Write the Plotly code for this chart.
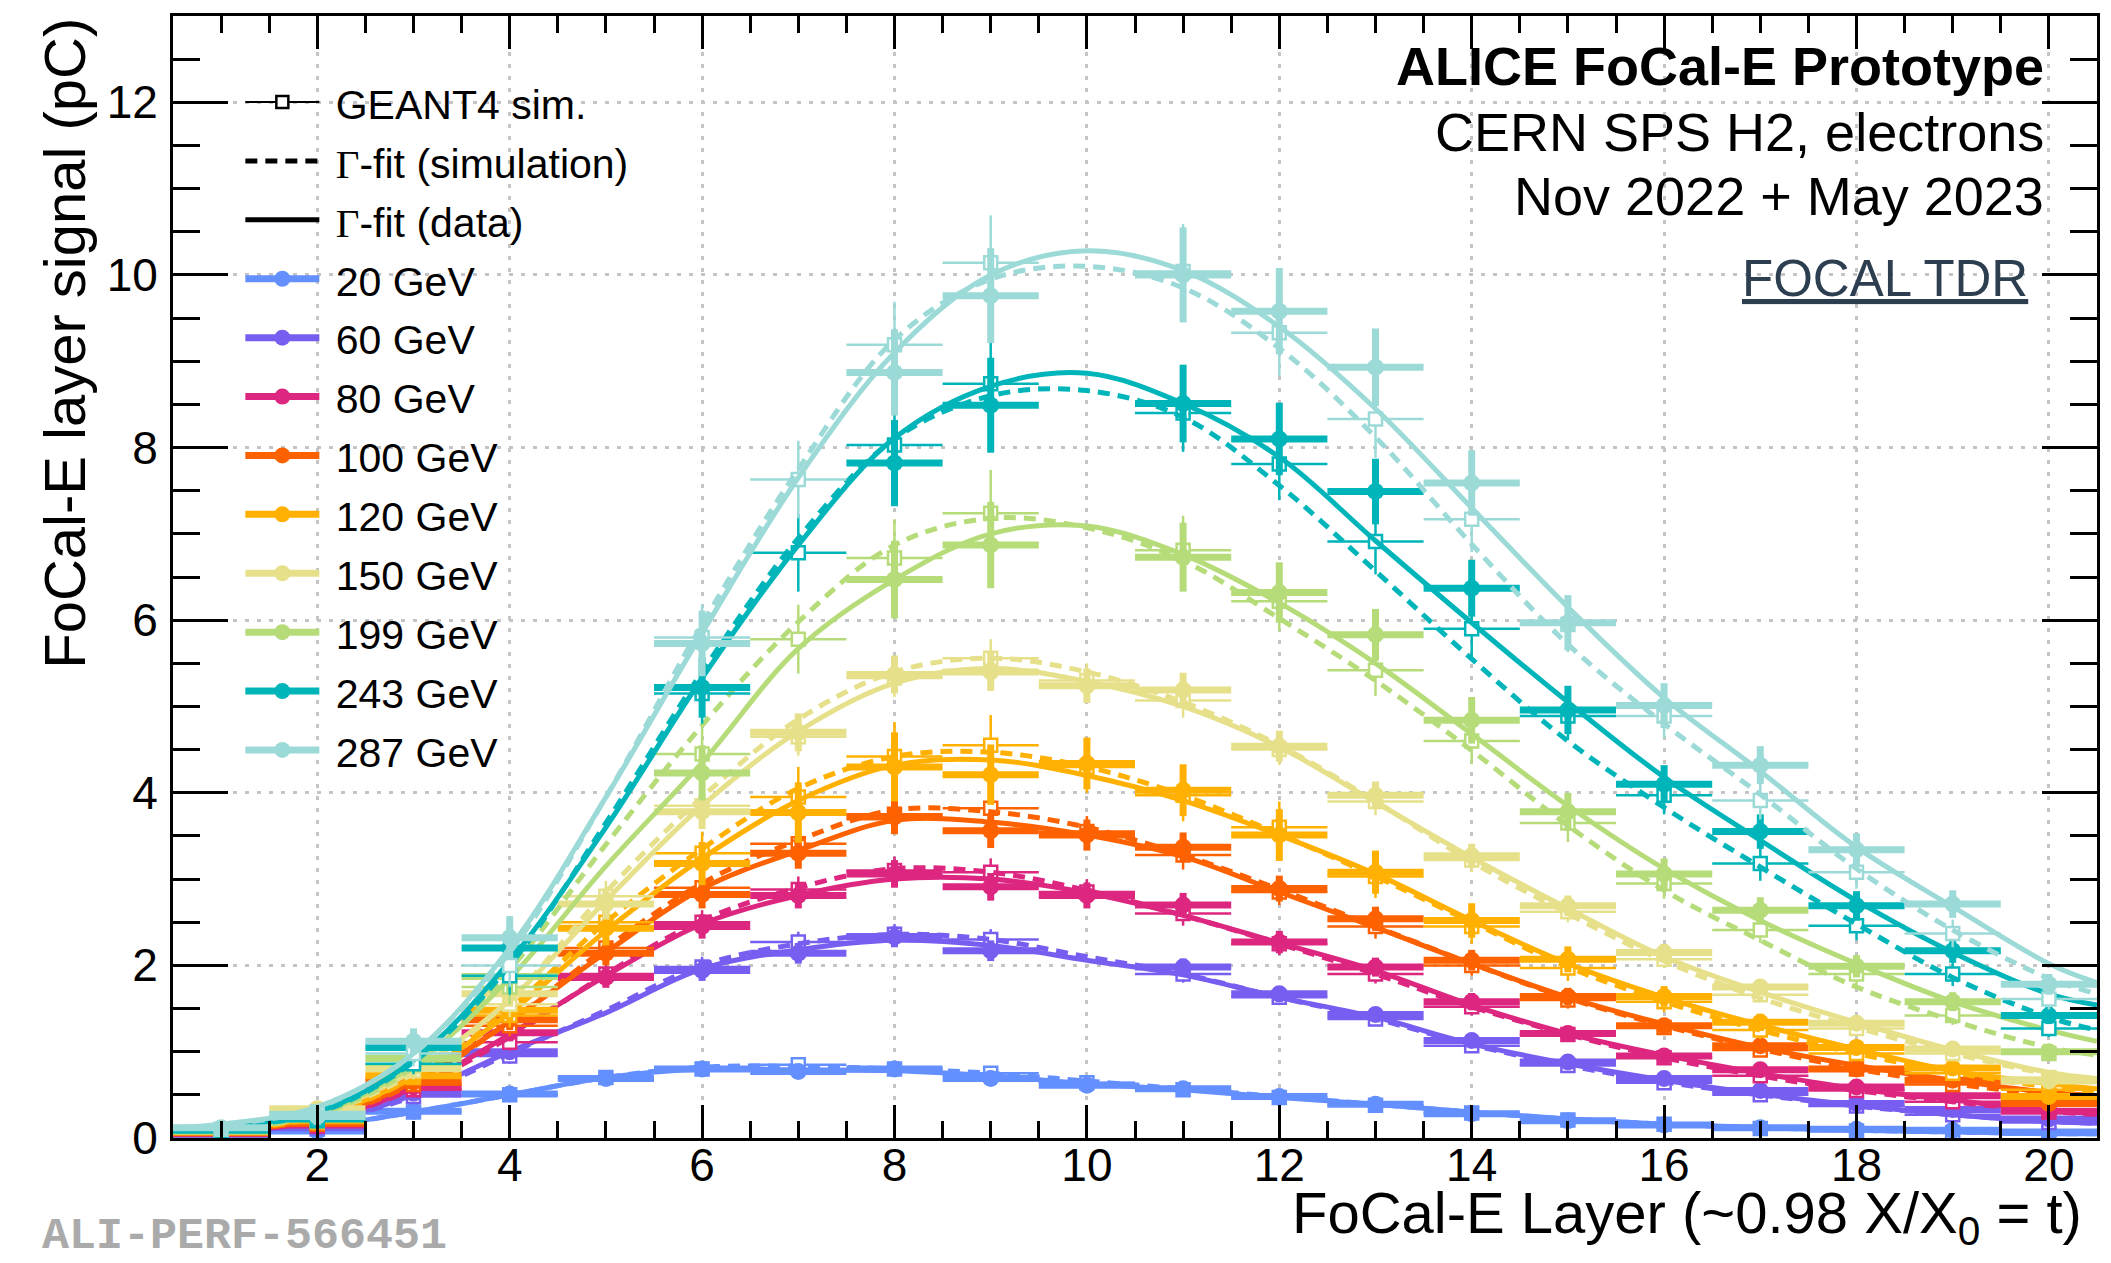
import plotly.graph_objects as go

# ---------------- data ----------------
layers = [1, 2, 3, 4, 5, 6, 7, 8, 9, 10, 11, 12, 13, 14, 15, 16, 17, 18, 19, 20]
fit_x = [0.5, 1, 2, 3, 4, 5, 6, 7, 8, 9, 10, 11, 12, 13, 14, 15, 16, 17, 18, 19, 20, 20.5]

energies = ["20 GeV", "60 GeV", "80 GeV", "100 GeV", "120 GeV", "150 GeV", "199 GeV", "243 GeV", "287 GeV"]
colors = ["#648FFF", "#785EF0", "#DC267F", "#FE6100", "#FFB000", "#E6E08A", "#B6DC7A", "#00B5BA", "#9CDAD8"]

# measured layer signal (pC)
data_20 = [0.04, 0.08, 0.31, 0.51, 0.69, 0.80, 0.77, 0.80, 0.69, 0.61, 0.57, 0.48, 0.39, 0.28, 0.20, 0.15, 0.12, 0.10, 0.09, 0.07]
data_60 = [0.06, 0.12, 0.52, 1.00, None, 1.94, 2.14, 2.33, 2.17, None, 1.98, 1.67, 1.43, 1.13, 0.88, 0.69, 0.55, 0.40, 0.33, 0.22]
data_80 = [0.05, 0.15, 0.59, 1.22, 1.86, 2.45, 2.81, 3.06, 2.91, 2.81, 2.70, 2.27, 1.98, 1.58, 1.21, 0.95, 0.79, 0.59, 0.49, 0.31]
data_100 = [0.06, 0.17, 0.65, 1.37, 2.14, 2.82, 3.30, 3.72, 3.56, 3.51, 3.37, 2.89, 2.54, 2.06, 1.64, 1.30, 1.07, 0.80, 0.67, 0.40]
data_120 = [0.07, 0.20, 0.72, 1.48, 2.43, 3.18, 3.77, 4.30, 4.21, 4.34, 4.03, 3.51, 3.08, 2.52, 2.07, 1.64, 1.34, 1.05, 0.81, 0.48]
data_150 = [0.08, 0.34, 0.82, 1.67, 2.71, 3.78, 4.70, 5.37, 5.40, 5.24, 5.19, 4.54, 3.97, 3.27, 2.69, 2.15, 1.75, 1.33, 1.03, 0.66]
data_199 = [0.08, 0.22, 0.92, 1.87, None, 4.23, None, 6.47, 6.87, None, 6.73, 6.32, 5.83, 4.84, 3.78, 3.06, 2.64, 1.99, 1.58, 1.00]
data_243 = [0.09, 0.22, 1.05, 2.20, None, 5.22, None, 7.82, 8.49, None, 8.51, 8.10, 7.49, 6.37, 4.96, 4.10, 3.55, 2.69, 2.17, 1.42]
data_287 = [0.12, 0.25, 1.12, 2.32, None, 5.73, None, 8.87, 9.76, None, 10.00, 9.58, 8.93, 7.59, 5.97, 5.01, 4.32, 3.34, 2.71, 1.78]

# GEANT4 simulation
sim_20 = [0.04, 0.10, 0.30, 0.50, 0.70, 0.80, 0.85, 0.80, 0.75, 0.64, 0.56, 0.47, 0.38, 0.29, 0.21, 0.16, 0.11, 0.08, 0.06, 0.04]
sim_60 = [0.05, 0.12, 0.48, 0.95, None, 1.98, 2.27, 2.36, 2.30, None, 1.90, 1.63, 1.38, 1.07, 0.84, 0.64, 0.50, 0.37, 0.27, 0.18]
sim_80 = [0.05, 0.14, 0.56, 1.11, 1.90, 2.50, 2.88, 3.10, 3.08, 2.85, 2.60, 2.25, 1.90, 1.52, 1.20, 0.93, 0.72, 0.55, 0.42, 0.30]
sim_100 = [0.05, 0.16, 0.62, 1.30, 2.20, 2.90, 3.41, 3.75, 3.82, 3.55, 3.28, 2.85, 2.45, 2.00, 1.60, 1.28, 1.02, 0.80, 0.62, 0.47]
sim_120 = [0.06, 0.18, 0.70, 1.42, 2.50, 3.30, 3.95, 4.42, 4.55, 4.30, 3.97, 3.60, 3.03, 2.45, 1.97, 1.58, 1.25, 0.98, 0.75, 0.56]
sim_150 = [0.07, 0.30, 0.78, 1.55, 2.80, 3.85, 4.65, 5.33, 5.56, 5.30, 5.07, 4.50, 3.90, 3.22, 2.62, 2.07, 1.66, 1.27, 0.98, 0.70]
sim_199 = [0.07, 0.20, 0.85, 1.75, None, 4.45, 5.78, 6.72, 7.24, None, 6.81, 6.22, 5.42, 4.60, 3.65, 2.95, 2.41, 1.90, 1.42, 0.98]
sim_243 = [0.08, 0.20, 0.86, 1.88, None, 5.15, 6.78, 8.03, 8.74, None, 8.40, 7.81, 6.91, 5.90, 4.89, 3.97, 3.18, 2.46, 1.90, 1.27]
sim_287 = [0.10, 0.30, 0.98, 2.00, None, 5.80, 7.63, 9.19, 10.14, None, 10.04, 9.33, 8.33, 7.17, 5.95, 4.89, 3.91, 3.08, 2.37, 1.61]

# vertical uncertainties (pC)
err_20 = [0.02, 0.03, 0.04, 0.05, 0.05, 0.05, 0.05, 0.05, 0.05, 0.05, 0.04, 0.04, 0.04, 0.03, 0.03, 0.03, 0.02, 0.02, 0.02, 0.02]
err_60 = [0.03, 0.04, 0.06, 0.09, 0.10, 0.12, 0.12, 0.12, 0.12, 0.11, 0.10, 0.09, 0.08, 0.07, 0.06, 0.05, 0.04, 0.04, 0.03, 0.03]
err_80 = [0.03, 0.04, 0.06, 0.10, 0.12, 0.14, 0.15, 0.16, 0.16, 0.15, 0.14, 0.13, 0.11, 0.10, 0.08, 0.07, 0.06, 0.05, 0.04, 0.03]
err_100 = [0.03, 0.05, 0.07, 0.12, 0.14, 0.16, 0.18, 0.20, 0.20, 0.18, 0.17, 0.15, 0.14, 0.12, 0.10, 0.08, 0.07, 0.06, 0.05, 0.04]
err_120 = [0.04, 0.05, 0.08, 0.14, 0.20, 0.25, 0.35, 0.40, 0.35, 0.30, 0.30, 0.30, 0.25, 0.20, 0.15, 0.12, 0.10, 0.08, 0.06, 0.05]
err_150 = [0.04, 0.06, 0.10, 0.15, 0.18, 0.20, 0.22, 0.22, 0.22, 0.20, 0.20, 0.18, 0.16, 0.14, 0.12, 0.10, 0.09, 0.07, 0.06, 0.05]
err_199 = [0.05, 0.08, 0.12, 0.20, 0.28, 0.32, 0.40, 0.45, 0.50, 0.45, 0.40, 0.35, 0.30, 0.27, 0.22, 0.18, 0.15, 0.13, 0.11, 0.08]
err_243 = [0.05, 0.08, 0.12, 0.22, 0.30, 0.35, 0.45, 0.50, 0.55, 0.50, 0.45, 0.42, 0.38, 0.33, 0.28, 0.22, 0.20, 0.17, 0.14, 0.10]
err_287 = [0.06, 0.10, 0.15, 0.25, 0.32, 0.38, 0.45, 0.50, 0.55, 0.55, 0.55, 0.50, 0.45, 0.38, 0.32, 0.26, 0.22, 0.19, 0.16, 0.12]

# Gamma-fit curves (data), read at fit_x
fitd_20 = [0.04, 0.05, 0.13, 0.30, 0.50, 0.70, 0.80, 0.79, 0.78, 0.72, 0.63, 0.56, 0.47, 0.39, 0.30, 0.22, 0.16, 0.12, 0.09, 0.07, 0.05, 0.05]
fitd_60 = [0.05, 0.06, 0.18, 0.50, 1.00, 1.45, 1.96, 2.18, 2.29, 2.23, 2.06, 1.89, 1.63, 1.40, 1.09, 0.86, 0.67, 0.51, 0.38, 0.27, 0.19, 0.17]
fitd_80 = [0.05, 0.07, 0.20, 0.58, 1.20, 1.88, 2.48, 2.81, 3.00, 3.00, 2.84, 2.58, 2.26, 1.94, 1.54, 1.21, 0.96, 0.75, 0.57, 0.44, 0.32, 0.28]
fitd_100 = [0.06, 0.08, 0.22, 0.65, 1.35, 2.15, 2.89, 3.33, 3.68, 3.66, 3.51, 3.26, 2.85, 2.44, 2.02, 1.63, 1.32, 1.05, 0.84, 0.67, 0.53, 0.49]
fitd_120 = [0.07, 0.09, 0.25, 0.70, 1.45, 2.40, 3.24, 3.91, 4.32, 4.38, 4.20, 3.91, 3.51, 3.06, 2.52, 2.02, 1.63, 1.31, 1.03, 0.78, 0.63, 0.57]
fitd_150 = [0.08, 0.10, 0.28, 0.78, 1.60, 2.75, 3.85, 4.71, 5.27, 5.44, 5.29, 5.00, 4.53, 3.89, 3.25, 2.66, 2.10, 1.69, 1.34, 1.02, 0.76, 0.69]
fitd_199 = [0.09, 0.12, 0.28, 0.85, 1.85, 3.15, 4.35, 5.67, 6.47, 7.00, 7.09, 6.76, 6.20, 5.50, 4.68, 3.85, 3.12, 2.52, 2.02, 1.58, 1.25, 1.12]
fitd_243 = [0.10, 0.14, 0.30, 0.90, 2.05, 3.60, 5.33, 6.87, 8.11, 8.71, 8.86, 8.51, 7.89, 6.92, 5.97, 5.05, 4.18, 3.45, 2.75, 2.15, 1.67, 1.54]
fitd_287 = [0.12, 0.16, 0.36, 0.98, 2.20, 3.95, 5.85, 7.65, 9.10, 10.00, 10.28, 10.05, 9.40, 8.45, 7.30, 6.15, 5.10, 4.25, 3.37, 2.68, 2.02, 1.80]

# Gamma-fit curves (simulation), read at fit_x
fits_20 = [0.04, 0.05, 0.13, 0.30, 0.50, 0.70, 0.82, 0.83, 0.80, 0.75, 0.66, 0.57, 0.48, 0.39, 0.30, 0.22, 0.16, 0.12, 0.09, 0.07, 0.05, 0.05]
fits_60 = [0.05, 0.06, 0.18, 0.48, 0.98, 1.48, 2.00, 2.25, 2.36, 2.30, 2.10, 1.90, 1.63, 1.38, 1.08, 0.84, 0.65, 0.50, 0.37, 0.27, 0.19, 0.17]
fits_80 = [0.05, 0.07, 0.20, 0.57, 1.17, 1.90, 2.52, 2.90, 3.12, 3.08, 2.87, 2.58, 2.25, 1.90, 1.52, 1.20, 0.93, 0.72, 0.55, 0.42, 0.31, 0.27]
fits_100 = [0.06, 0.08, 0.22, 0.63, 1.35, 2.20, 2.95, 3.45, 3.80, 3.78, 3.60, 3.28, 2.88, 2.45, 2.02, 1.62, 1.30, 1.03, 0.80, 0.63, 0.50, 0.45]
fits_120 = [0.07, 0.09, 0.24, 0.70, 1.50, 2.50, 3.35, 4.05, 4.42, 4.47, 4.30, 3.97, 3.52, 3.03, 2.50, 1.98, 1.58, 1.25, 0.98, 0.76, 0.59, 0.53]
fits_150 = [0.08, 0.10, 0.27, 0.75, 1.60, 2.85, 3.95, 4.85, 5.40, 5.56, 5.40, 5.05, 4.55, 3.90, 3.20, 2.60, 2.05, 1.62, 1.28, 0.98, 0.74, 0.66]
fits_199 = [0.09, 0.11, 0.27, 0.82, 1.95, 3.40, 4.78, 5.98, 6.87, 7.18, 7.07, 6.69, 6.02, 5.30, 4.49, 3.62, 2.87, 2.29, 1.75, 1.36, 1.05, 0.96]
fits_243 = [0.09, 0.13, 0.29, 0.88, 2.00, 3.65, 5.40, 6.95, 8.10, 8.60, 8.66, 8.35, 7.56, 6.57, 5.55, 4.60, 3.83, 3.14, 2.48, 1.86, 1.40, 1.25]
fits_287 = [0.11, 0.15, 0.35, 0.98, 2.15, 3.95, 5.95, 7.75, 9.25, 9.95, 10.10, 9.85, 9.15, 8.12, 6.88, 5.72, 4.80, 3.98, 3.12, 2.41, 1.85, 1.67]

x_ticks = [2, 4, 6, 8, 10, 12, 14, 16, 18, 20]
y_ticks = [0, 2, 4, 6, 8, 10, 12]

data_all = [data_20, data_60, data_80, data_100, data_120, data_150, data_199, data_243, data_287]
sim_all = [sim_20, sim_60, sim_80, sim_100, sim_120, sim_150, sim_199, sim_243, sim_287]
err_all = [err_20, err_60, err_80, err_100, err_120, err_150, err_199, err_243, err_287]
fitd_all = [fitd_20, fitd_60, fitd_80, fitd_100, fitd_120, fitd_150, fitd_199, fitd_243, fitd_287]
fits_all = [fits_20, fits_60, fits_80, fits_100, fits_120, fits_150, fits_199, fits_243, fits_287]

FONT = "Liberation Sans, Arial, Helvetica, sans-serif"

fig = go.Figure()

# ---------------- plotted series ----------------
for name, col, d, s, e, fd, fs in zip(energies, colors, data_all, sim_all, err_all, fitd_all, fits_all):
    # simulation points
    fig.add_trace(go.Scatter(
        x=layers, y=s, mode="markers", showlegend=False, hoverinfo="skip",
        marker=dict(symbol="square", size=13, color="white", line=dict(color=col, width=2.5)),
        error_x=dict(type="constant", value=0.5, color=col, thickness=2.5, width=0),
        error_y=dict(type="data", array=e, color=col, thickness=2.5, width=0),
    ))
    # data points
    fig.add_trace(go.Scatter(
        x=layers, y=d, mode="markers", showlegend=False, name=name,
        marker=dict(symbol="circle", size=17, color=col),
        error_x=dict(type="constant", value=0.5, color=col, thickness=7, width=0),
        error_y=dict(type="data", array=e, color=col, thickness=7, width=0),
    ))
    # gamma fit to simulation (dashed)
    fig.add_trace(go.Scatter(
        x=fit_x, y=fs, mode="lines", showlegend=False, hoverinfo="skip",
        line=dict(color=col, width=5, dash="12px,8px", shape="spline", smoothing=1.0),
    ))
    # gamma fit to data (solid)
    fig.add_trace(go.Scatter(
        x=fit_x, y=fd, mode="lines", showlegend=False, hoverinfo="skip",
        line=dict(color=col, width=5, shape="spline", smoothing=1.0),
    ))

# ---------------- legend entries ----------------
NB = "\u00a0"
LEG = "<span style='font-size:41px'>" + NB + "{}</span>"
GAMMA = "<span style='font-family:Liberation Serif, Times New Roman, serif'>Γ</span>"
fig.add_trace(go.Scatter(
    x=[None], y=[None], mode="lines+markers", name=LEG.format("GEANT4 sim."),
    line=dict(color="black", width=2),
    marker=dict(symbol="square", size=12, color="white", line=dict(color="black", width=2.5)),
))
fig.add_trace(go.Scatter(
    x=[None], y=[None], mode="lines", name=LEG.format(GAMMA + "-fit (simulation)"),
    line=dict(color="black", width=5, dash="12px,8px"),
))
fig.add_trace(go.Scatter(
    x=[None], y=[None], mode="lines", name=LEG.format(GAMMA + "-fit (data)"),
    line=dict(color="black", width=5),
))
for name, col in zip(energies, colors):
    fig.add_trace(go.Scatter(
        x=[None], y=[None], mode="lines+markers", name=LEG.format(name),
        line=dict(color=col, width=7),
        marker=dict(symbol="circle", size=17, color=col),
    ))

# ---------------- layout ----------------
axis_common = dict(
    showline=True, linecolor="black", linewidth=3, mirror="allticks",
    ticks="inside", tickcolor="black", tickwidth=3,
    showgrid=True, gridcolor="#c4c4c4", gridwidth=3, griddash="4px,8px",
    zeroline=False,
    tickfont=dict(family=FONT, size=46, color="black"),
)

fig.update_layout(
    width=2111, height=1263,
    margin=dict(l=173, r=14, t=16, b=125),
    paper_bgcolor="white", plot_bgcolor="white",
    font=dict(family=FONT, color="black"),
    showlegend=True,
    legend=dict(
        x=0.035, y=0.954, xanchor="left", yanchor="top",
        bgcolor="rgba(0,0,0,0)", borderwidth=0,
        font=dict(family=FONT, size=43, color="black"),
        itemwidth=74, tracegroupgap=0,
    ),
    xaxis=dict(
        axis_common, range=[0.5, 20.5], tickvals=x_ticks, ticktext=[str(v) for v in x_ticks],
        ticklen=33, ticklabelstandoff=-15,
        minor=dict(dtick=0.5, tick0=0, ticks="inside", ticklen=17, tickwidth=3, tickcolor="black", showgrid=False),
    ),
    yaxis=dict(
        axis_common, range=[0, 13], tickvals=y_ticks, ticktext=[str(v) for v in y_ticks],
        ticklen=55, ticklabelstandoff=3,
        minor=dict(dtick=0.5, tick0=0, ticks="inside", ticklen=27, tickwidth=3, tickcolor="black", showgrid=False),
    ),
)

annotations = [
    dict(text="FoCal-E Layer (~0.98 X/X<sub>0</sub> = t)", x=0.9933, y=-0.0705, xref="paper", yref="paper",
         xanchor="right", yanchor="middle", showarrow=False, font=dict(family=FONT, size=58, color="black")),
    dict(text="FoCal-E layer signal (pC)", x=-0.0565, y=1.0, xref="paper", yref="paper", textangle=-90,
         xanchor="center", yanchor="top", showarrow=False, font=dict(family=FONT, size=58, color="black")),
    dict(text="<b>ALICE FoCal-E Prototype</b>", x=0.9735, y=0.9554, xref="paper", yref="paper",
         xanchor="right", yanchor="middle", showarrow=False, font=dict(family=FONT, size=54, color="black")),
    dict(text="CERN SPS H2, electrons", x=0.9735, y=0.8965, xref="paper", yref="paper",
         xanchor="right", yanchor="middle", showarrow=False, font=dict(family=FONT, size=54, color="black")),
    dict(text="Nov 2022 + May 2023", x=0.9735, y=0.8395, xref="paper", yref="paper",
         xanchor="right", yanchor="middle", showarrow=False, font=dict(family=FONT, size=54, color="black")),
    dict(text="<u>FOCAL TDR</u>", x=0.9652, y=0.7664, xref="paper", yref="paper",
         xanchor="right", yanchor="middle", showarrow=False, font=dict(family=FONT, size=51, color="#2C3E50")),
    dict(text="<b>ALI-PERF-566451</b>", x=-0.0693, y=-0.0880, xref="paper", yref="paper",
         xanchor="left", yanchor="middle", showarrow=False,
         font=dict(family="Liberation Mono, Courier New, monospace", size=45, color="#AAAAAA")),
]
fig.update_layout(annotations=annotations)

fig.write_html("out.html", config={"displayModeBar": False},
               post_script="document.body.style.margin='0px';")
